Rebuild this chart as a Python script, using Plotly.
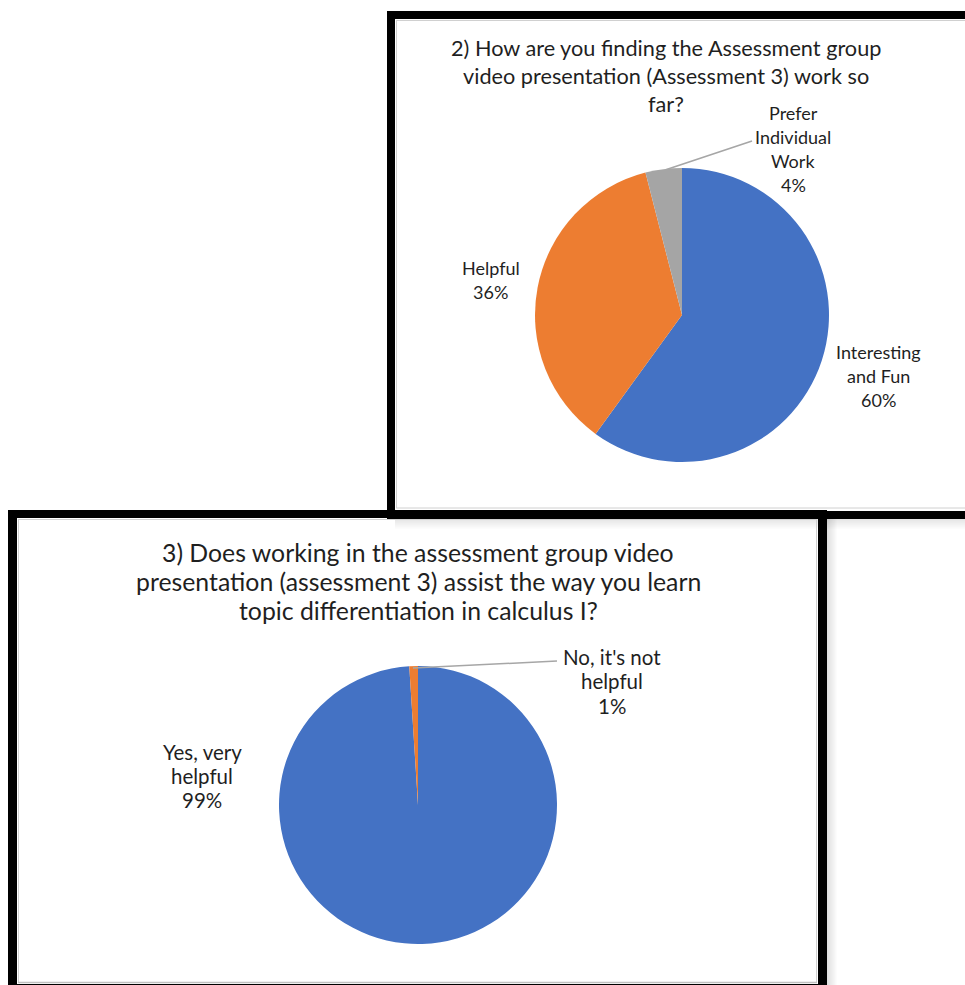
import plotly.graph_objects as go

W, H = 965, 985

# ---- data ----
q2_labels = ["Interesting and Fun", "Helpful", "Prefer Individual Work"]
q2_values = [60, 36, 4]
q2_colors = ["#4472C4", "#ED7D31", "#A5A5A5"]
q2_title = ["2) How are you finding the Assessment group",
            "video presentation (Assessment 3) work so",
            "far?"]
q2_text = [["Interesting", "and Fun", "60%"], ["Helpful", "36%"], ["Prefer", "Individual", "Work", "4%"]]

q3_labels = ["Yes, very helpful", "No, it's not helpful"]
q3_values = [99, 1]
q3_colors = ["#4472C4", "#ED7D31"]
q3_title = ["3) Does working in the assessment group video",
            "presentation (assessment 3) assist the way you learn",
            "topic differentiation in calculus I?"]
q3_text = [["Yes, very", "helpful", "99%"], ["No, it's not", "helpful", "1%"]]

FONT = "Lato"
TXT = "#1f1f1f"


def px(x):
    return x / W


def py(y):
    return 1 - y / H


fig = go.Figure()

# top pie (circle centre 682,315 r 147)
fig.add_trace(go.Pie(
    labels=q2_labels, values=q2_values, sort=False, direction="clockwise", rotation=0,
    marker=dict(colors=q2_colors, line=dict(color="white", width=0)),
    textinfo="none", hoverinfo="label+percent", showlegend=False,
    domain=dict(x=[px(535), px(829)], y=[py(462), py(168)])))

# bottom pie (centre 418,805)
fig.add_trace(go.Pie(
    labels=q3_labels, values=q3_values, sort=False, direction="clockwise", rotation=0,
    marker=dict(colors=q3_colors, line=dict(color="white", width=0)),
    textinfo="none", hoverinfo="label+percent", showlegend=False,
    domain=dict(x=[px(279), px(557)], y=[py(944), py(666)])))

ann = []


def lines(texts, cx, ys, size, color=TXT):
    for t, y in zip(texts, ys):
        ann.append(dict(text=t, x=px(cx), y=py(y), xref="paper", yref="paper",
                        xanchor="center", yanchor="middle", showarrow=False,
                        font=dict(family=FONT, size=size, color=color)))


# titles
lines(q2_title, 666, [48, 76, 104], 21.7)
lines(q3_title, 418, [552, 581, 610], 24.8)

# slice labels
lines(q2_text[0], 878, [352, 376, 400], 18)
lines(q2_text[1], 491, [268, 292], 18)
lines(q2_text[2], 793, [113, 137, 161, 185], 18)
lines(q3_text[0], 202, [752, 776, 800], 20.5)
lines(q3_text[1], 612, [657, 681, 706], 20.5)

shapes = []


def rect(x0, y0, x1, y1, color, opacity=1.0):
    shapes.append(dict(type="rect", xref="paper", yref="paper",
                       x0=px(x0), x1=px(x1), y0=py(y1), y1=py(y0),
                       line=dict(width=0), fillcolor=color, opacity=opacity))


def seg(x0, y0, x1, y1, color, width=1.2):
    shapes.append(dict(type="line", xref="paper", yref="paper",
                       x0=px(x0), y0=py(y0), x1=px(x1), y1=py(y1),
                       line=dict(color=color, width=width)))


# leader lines
seg(665, 170, 752, 141, "#A6A6A6", 1.5)
seg(413, 668, 557, 661, "#A6A6A6", 1.5)

# shadows
for i in range(10):
    op = 0.05 * (1 - i / 10)
    rect(395, 519 + i, 965, 520 + i, "black", op * 2)
    rect(827 + i, 518, 828 + i, 985, "black", op * 2.5)

# inner thin gray lines
seg(396.5, 20, 396.5, 508, "#D0D0D0", 1)
seg(396, 20.5, 965, 20.5, "#D0D0D0", 1)
seg(396, 508, 965, 508, "#D0D0D0", 1)
seg(18.5, 519, 18.5, 983, "#D0D0D0", 1)
seg(18, 519.5, 817, 519.5, "#D0D0D0", 1)
seg(816.5, 519, 816.5, 983, "#D0D0D0", 1)
seg(18, 982.5, 817, 982.5, "#C0C0C0", 1.5)

# black frames
rect(387, 11, 965, 19, "black")
rect(387, 11, 395, 519, "black")
rect(387, 511, 965, 519, "black")
rect(8, 510, 827, 518, "black")
rect(8, 510, 17, 985, "black")
rect(818, 510, 827, 985, "black")
rect(8, 984, 827, 985, "black")

fig.update_layout(width=W, height=H, margin=dict(l=0, r=0, t=0, b=0),
                  paper_bgcolor="white", plot_bgcolor="white",
                  annotations=ann, shapes=shapes, showlegend=False)

fig.write_html("out.html", config={"displayModeBar": False},
               post_script="document.body.style.margin='0';document.body.style.overflow='hidden';")
